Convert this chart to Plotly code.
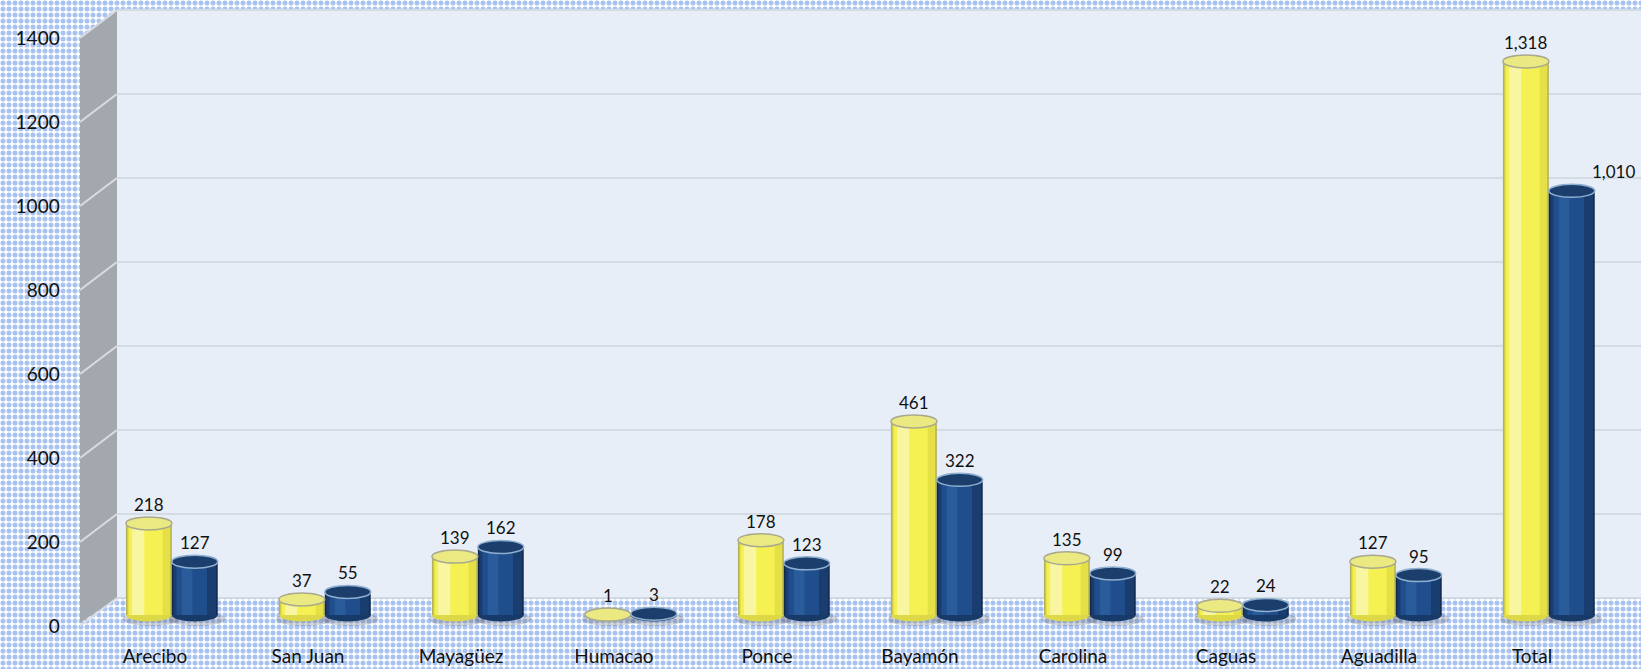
import plotly.graph_objects as go

# ---------------- data ----------------
categories = ["Arecibo", "San Juan", "Mayagüez", "Humacao", "Ponce",
              "Bayamón", "Carolina", "Caguas", "Aguadilla", "Total"]
series_a = [218, 37, 139, 1, 178, 461, 135, 22, 127, 1318]
series_b = [127, 55, 162, 3, 123, 322, 99, 24, 95, 1010]
y_ticks = [0, 200, 400, 600, 800, 1000, 1200, 1400]

# ---------------- geometry / style ----------------
W, H = 1641, 669
X0 = 78.5          # pixel of category position -0.5
CAT = 153.0        # pixels per category
BASE = 615.0       # pixel of value 0 (bar base)
PPU = 0.42         # pixels per unit
FONT = "Lato"

def px_x(p):
    return (p - X0) / CAT - 0.5

def px_y(p):
    return (BASE - p) / PPU

BAR_W = 0.30
series_style = [
    dict(vals=series_a, off=-0.04,
         layers=[(0.30, 0.0, "#b3b05a"), (0.28, 0.0, "#e4e046"),
                 (0.22, -0.02, "#f5f152"), (0.08, -0.07, "#f8f6a0")],
         top_fill="#ebe982", top_line="#a9a98f", bot="#dcd848"),
    dict(vals=series_b, off=0.26,
         layers=[(0.30, 0.0, "#13294a"), (0.28, 0.0, "#1a3d70"),
                 (0.20, -0.02, "#204e8c"), (0.07, -0.05, "#2a5b9b")],
         top_fill="#1b3e6c", top_line="#8fb0d0", bot="#183a68"),
]
label_xshift = {(9, 1): 42}

fig = go.Figure()

# background dotted pattern (decoration, full paper)
fig.add_trace(go.Bar(
    x=[0.5], y=[1], width=[1], base=[0], xaxis="x", yaxis="y",
    marker=dict(color="white", line=dict(width=0),
                pattern=dict(shape=".", fgcolor="#5288df", bgcolor="white",
                             size=6, solidity=0.55)),
    hoverinfo="skip", showlegend=False))

shapes = []
# left wall
lx0, lx1 = px_x(80), px_x(117)
shapes.append(dict(
    type="path", xref="x2", yref="y2", layer="below",
    path=(f"M {lx0},{px_y(37)} L {lx1},{px_y(9)} L {lx1},{px_y(598)} "
          f"L {lx0},{px_y(623)} Z"),
    fillcolor="#a3a8ae", line=dict(width=0)))
# back wall
shapes.append(dict(
    type="rect", xref="x2", yref="y2", layer="below",
    x0=lx1, x1=px_x(W), y0=px_y(598), y1=px_y(9),
    fillcolor="#e8eef7", line=dict(width=0)))
# grid lines
for v in y_ticks:
    shapes.append(dict(type="line", xref="x2", yref="y2", layer="below",
                       x0=lx1, x1=px_x(W), ysizemode="pixel", yanchor=v,
                       y0=17, y1=17, line=dict(color="#cdd4dd", width=1.5)))
    shapes.append(dict(type="line", xref="x2", yref="y2", layer="below",
                       x0=lx0, x1=lx1, ysizemode="pixel", yanchor=v,
                       y0=-11, y1=17, line=dict(color="#d9dde2", width=2)))

# bars
for s_idx, st in enumerate(series_style):
    centers = [i + st["off"] for i in range(len(categories))]
    for c in centers:
        shapes.append(dict(type="circle", xref="x2", yref="y2", layer="below",
                           x0=c - BAR_W / 2 - 0.02, x1=c + BAR_W / 2 + 0.05,
                           ysizemode="pixel", yanchor=0, y0=-11, y1=3,
                           fillcolor="rgba(70,70,80,0.22)", line=dict(width=0)))
    for c in centers:
        shapes.append(dict(type="circle", xref="x2", yref="y2", layer="below",
                           x0=c - BAR_W / 2, x1=c + BAR_W / 2,
                           ysizemode="pixel", yanchor=0, y0=-6.5, y1=6.5,
                           fillcolor=st["bot"], line=dict(width=0)))
    for (w, dx, col) in st["layers"]:
        fig.add_trace(go.Bar(
            x=[c + dx for c in centers], y=st["vals"], width=w,
            xaxis="x2", yaxis="y2", marker=dict(color=col, line=dict(width=0)),
            hoverinfo="skip", showlegend=False))
    for c, v in zip(centers, st["vals"]):
        shapes.append(dict(type="circle", xref="x2", yref="y2", layer="above",
                           x0=c - BAR_W / 2, x1=c + BAR_W / 2,
                           ysizemode="pixel", yanchor=v, y0=-6.5, y1=6.5,
                           fillcolor=st["top_fill"],
                           line=dict(color=st["top_line"], width=1.5)))

annotations = []
for s_idx, st in enumerate(series_style):
    for i, v in enumerate(st["vals"]):
        annotations.append(dict(
            x=i + st["off"], y=v, xref="x2", yref="y2", text=f"{v:,}",
            showarrow=False, yshift=19, xshift=label_xshift.get((i, s_idx), 0),
            font=dict(family=FONT, size=17, color="#111111")))

fig.update_layout(
    width=W, height=H, margin=dict(l=0, r=0, t=0, b=0),
    paper_bgcolor="white", plot_bgcolor="rgba(0,0,0,0)",
    barmode="overlay", showlegend=False,
    font=dict(family=FONT, size=19, color="#111111"),
    xaxis=dict(domain=[0, 1], range=[0, 1], visible=False, fixedrange=True),
    yaxis=dict(domain=[0, 1], range=[0, 1], visible=False, fixedrange=True),
    xaxis2=dict(domain=[X0 / W, 1], range=[-0.5, px_x(W)], anchor="free",
                position=(H - BASE) / H,
                tickmode="array", tickvals=list(range(len(categories))),
                ticktext=categories, ticks="outside", ticklen=24,
                tickcolor="rgba(0,0,0,0)", showgrid=False, zeroline=False,
                showline=False, tickfont=dict(family=FONT, size=19, color="#111111")),
    yaxis2=dict(domain=[0, 1], range=[px_y(H), px_y(0)], anchor="x2",
                tickmode="array", tickvals=y_ticks,
                ticktext=[str(t) for t in y_ticks], ticks="outside", ticklen=14,
                tickcolor="rgba(0,0,0,0)", ticklabelshift=11,
                showgrid=False, zeroline=False, showline=False,
                tickfont=dict(family=FONT, size=19, color="#111111")),
    shapes=shapes, annotations=annotations,
)

fig.write_html(
    "out.html",
    config={"displayModeBar": False},
    post_script="document.body.style.margin='0px';"
                "document.body.style.overflow='hidden';",
)
